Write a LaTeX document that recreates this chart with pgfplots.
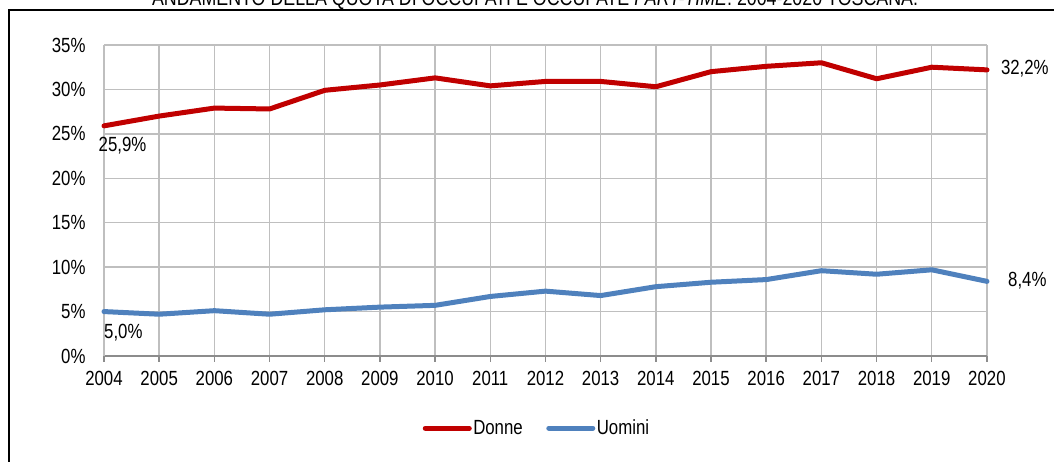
\documentclass[border=0pt]{standalone}
\usepackage{pgfplots}
\pgfplotsset{compat=1.18}
\usepackage{graphicx}
\usepackage{fontspec}
\setmainfont{Liberation Sans}[FakeStretch=0.82]
\definecolor{dred}{HTML}{C00000}
\definecolor{dblue}{HTML}{4F81BD}
\definecolor{gridg}{RGB}{191,191,191}
\definecolor{axg}{RGB}{140,140,140}
\begin{document}
\begin{tikzpicture}[x=1pt,y=1pt]
\useasboundingbox (0,0) rectangle (1054,462);
\begin{scope}
\clip (0,0) rectangle (1054,462);
\draw[line width=2pt,black] (8.5,-20) -- (8.5,451.5) -- (1070,451.5);
\node[anchor=base,inner sep=0pt] at (535,456) {\resizebox{766pt}{!}{\fontsize{20}{24}\selectfont ANDAMENTO DELLA QUOTA DI OCCUPATI E OCCUPATE \textit{PART-TIME}. 2004-2020 TOSCANA.}};
\end{scope}
\begin{axis}[
  at={(104pt,106pt)}, anchor=origin,
  scale only axis, width=883pt, height=311pt,
  xmin=2004, xmax=2020, ymin=0, ymax=35,
  xtick={2004,...,2020},
  xticklabels={2004,2005,2006,2007,2008,2009,2010,2011,2012,2013,2014,2015,2016,2017,2018,2019,2020},
  ytick={0,5,...,35},
  yticklabels={0\%,5\%,10\%,15\%,20\%,25\%,30\%,35\%},
  font=\fontsize{20.5}{24}\selectfont,
  ticklabel style={font=\fontsize{20.5}{24}\selectfont},
  grid=major,
  major grid style={gridg, line width=1.5pt},
  axis x line*=bottom, axis y line*=left,
  x axis line style={axg, line width=1.5pt, -},
  y axis line style={gridg, line width=1.5pt, -},
  xtick style={axg, line width=1.5pt},
  ytick style={draw=none},
  major tick length=6pt,
  xtick align=outside,
  xticklabel style={yshift=-6pt},
  yticklabel style={xshift=-15pt},
  clip=false,
  legend columns=2,
  legend style={at={(0.49,-0.232)}, anchor=center, draw=none, fill=none,
    font=\fontsize{20.5}{24}\selectfont,
    /tikz/every even column/.append style={column sep=22pt},
    nodes={inner sep=1.5pt}},
  legend image code/.code={\draw[line width=5pt, line cap=round] (0pt,0pt) -- (44pt,0pt);},
]
\addplot[dred, line width=5pt, line join=round, line cap=round] coordinates {
(2004,25.9) (2005,27.0) (2006,27.9) (2007,27.8) (2008,29.9) (2009,30.5) (2010,31.3) (2011,30.4) (2012,30.9) (2013,30.9) (2014,30.3) (2015,32.0) (2016,32.6) (2017,33.0) (2018,31.2) (2019,32.5) (2020,32.2)};
\addlegendentry{Donne}
\addplot[dblue, line width=5pt, line join=round, line cap=round] coordinates {
(2004,5.0) (2005,4.7) (2006,5.1) (2007,4.7) (2008,5.2) (2009,5.5) (2010,5.7) (2011,6.7) (2012,7.3) (2013,6.8) (2014,7.8) (2015,8.3) (2016,8.6) (2017,9.6) (2018,9.2) (2019,9.7) (2020,8.4)};
\addlegendentry{Uomini}
\node[anchor=north west, inner sep=0pt] at (axis cs:2003.9,24.6) {25,9\%};
\node[anchor=north west, inner sep=0pt] at (axis cs:2004.0,3.55) {5,0\%};
\node[anchor=west, inner sep=0pt] at (axis cs:2020.25,32.3) {32,2\%};
\node[anchor=west, inner sep=0pt] at (axis cs:2020.38,8.45) {8,4\%};
\end{axis}
\end{tikzpicture}
\end{document}
